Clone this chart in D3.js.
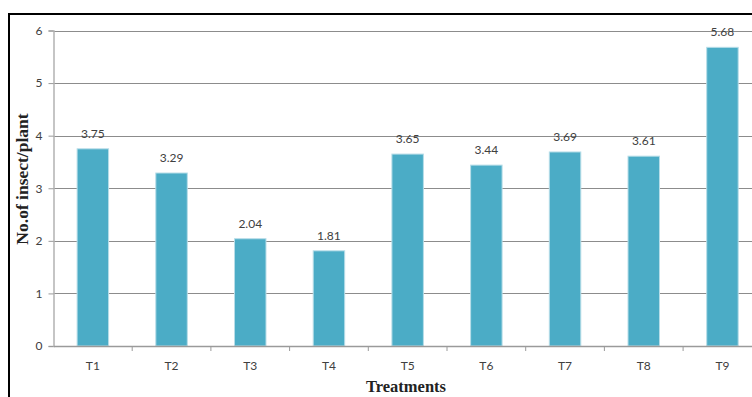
<!DOCTYPE html>
<html>
<head>
<meta charset="utf-8">
<script src="https://cdn.jsdelivr.net/npm/d3@7"></script>
<style>
  html, body { margin: 0; padding: 0; background: #fff; overflow: hidden; }
  svg { display: block; }
</style>
</head>
<body>
<svg id="chart" width="752" height="397"></svg>
<script>
// Insect count per plant for each treatment
const treatments = ["T1", "T2", "T3", "T4", "T5", "T6", "T7", "T8", "T9"];
const insectsPerPlant = [3.75, 3.29, 2.04, 1.81, 3.65, 3.44, 3.69, 3.61, 5.68];
const yTicks = [0, 1, 2, 3, 4, 5, 6];

const svg = d3.select("#chart");
const axisFont = "Lato, 'Open Sans', sans-serif";

// Outer frame
svg.append("rect")
  .attr("x", 9).attr("y", 14)
  .attr("width", 800).attr("height", 450)
  .attr("fill", "none").attr("stroke", "#000").attr("stroke-width", 2);

const plotLeft = 53.5, plotTop = 30.5, plotBottom = 346;
const band = 78.7;

const x = d3.scaleBand()
  .domain(treatments)
  .range([plotLeft, plotLeft + band * treatments.length])
  .paddingInner(0.6)
  .paddingOuter(0.3);

const y = d3.scaleLinear().domain([0, 6]).range([plotBottom, plotTop]);

// Horizontal gridlines
svg.append("g")
  .selectAll("line")
  .data(yTicks.filter(d => d > 0))
  .join("line")
  .attr("x1", plotLeft).attr("x2", 760)
  .attr("y1", d => Math.round(y(d)) + 0.5).attr("y2", d => Math.round(y(d)) + 0.5)
  .attr("stroke", "#8c8c8c").attr("stroke-width", 1);

// Bars
svg.append("g")
  .selectAll("rect")
  .data(treatments.map((t, i) => ({ t, v: insectsPerPlant[i] })))
  .join("rect")
  .attr("x", d => x(d.t))
  .attr("y", d => y(d.v))
  .attr("width", x.bandwidth())
  .attr("height", d => y(0) - y(d.v))
  .attr("fill", "#4bacc6")
  .attr("stroke", "#b7dde8").attr("stroke-width", 1);

// Value labels
svg.append("g")
  .selectAll("text")
  .data(treatments.map((t, i) => ({ t, v: insectsPerPlant[i] })))
  .join("text")
  .attr("x", d => x(d.t) + x.bandwidth() / 2)
  .attr("y", d => y(d.v) - 11)
  .attr("text-anchor", "middle")
  .attr("font-family", axisFont).attr("font-size", 12)
  .attr("fill", "#404040")
  .text(d => d.v.toFixed(2));

// Y axis
const yAxis = svg.append("g")
  .attr("transform", `translate(${plotLeft},0)`)
  .call(d3.axisLeft(y).tickValues(yTicks).tickSize(5).tickPadding(6).tickFormat(d3.format("d")));
yAxis.select(".domain").attr("stroke", "#b3b3b3").attr("stroke-width", 1.5);
yAxis.selectAll(".tick line").attr("stroke", "#9a9a9a");
yAxis.selectAll("text").attr("font-family", axisFont).attr("font-size", 12).attr("fill", "#404040");

// X axis
const xAxis = svg.append("g")
  .attr("transform", `translate(0,${plotBottom})`)
  .call(d3.axisBottom(x).tickSize(0).tickPadding(15));
xAxis.select(".domain").attr("stroke", "#9a9a9a").attr("stroke-width", 1.5);
xAxis.selectAll("text").attr("font-family", axisFont).attr("font-size", 12).attr("fill", "#404040");

// Category divider ticks
svg.append("g")
  .selectAll("line")
  .data(d3.range(1, treatments.length + 1))
  .join("line")
  .attr("x1", i => plotLeft + band * i).attr("x2", i => plotLeft + band * i)
  .attr("y1", plotBottom).attr("y2", plotBottom + 5)
  .attr("stroke", "#9a9a9a");

// Axis titles
svg.append("text")
  .attr("x", 406).attr("y", 392)
  .attr("text-anchor", "middle")
  .attr("font-family", "'Liberation Serif', 'Times New Roman', serif")
  .attr("font-weight", "bold").attr("font-size", 16.5)
  .attr("fill", "#222")
  .text("Treatments");

svg.append("text")
  .attr("transform", "translate(28,179) rotate(-90)")
  .attr("text-anchor", "middle")
  .attr("font-family", "'Liberation Serif', 'Times New Roman', serif")
  .attr("font-weight", "bold").attr("font-size", 17.5)
  .attr("fill", "#222")
  .text("No.of insect/plant");
</script>
</body>
</html>
